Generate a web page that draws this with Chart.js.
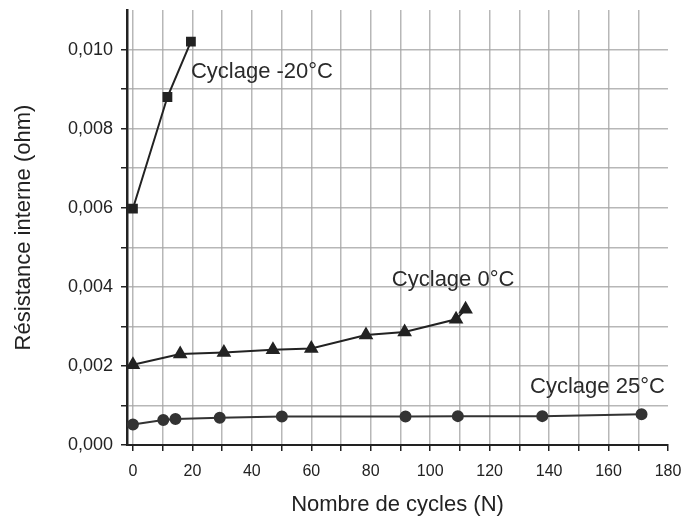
<!DOCTYPE html>
<html>
<head>
<meta charset="utf-8">
<script src="https://cdn.jsdelivr.net/npm/chart.js@4/dist/chart.umd.min.js"></script>
<style>
html,body{margin:0;padding:0;background:#fff;}
#wrap{width:688px;height:520px;}
</style>
</head>
<body>
<div id="wrap"><canvas id="c" width="688" height="520"></canvas></div>
<script>
// Data
const cyclesM20 = [0, 11.6, 19.5];
const resM20 = [0.00598, 0.0088, 0.0102];

const cycles0 = [0, 15.9, 30.6, 47.1, 60, 78.4, 91.4, 108.7, 111.9];
const res0 = [0.00203, 0.0023, 0.00234, 0.00241, 0.00244, 0.00278, 0.00286, 0.00318, 0.00343];

const cycles25 = [0, 10.2, 14.3, 29.2, 50.1, 91.7, 109.3, 137.7, 171.1];
const res25 = [0.00052, 0.00063, 0.00066, 0.00069, 0.00072, 0.00072, 0.00073, 0.00073, 0.00078];

const xTicks = [0,10,20,30,40,50,60,70,80,90,100,110,120,130,140,150,160,170,180];
const yTicks = [0,0.001,0.002,0.003,0.004,0.005,0.006,0.007,0.008,0.009,0.010,0.011];

const labelTexts = ['Cyclage -20°C', 'Cyclage 0°C', 'Cyclage 25°C'];
const labelX = [19.5, 87.1, 133.6];
const labelY = [0.00928, 0.00401, 0.00131];

const toPts = (xs, ys) => xs.map((x, i) => ({x: x, y: ys[i]}));

const ink = '#222';
const gridCol = 'rgba(165,165,165,0.8)';
const fam = '"Liberation Sans", Arial, sans-serif';

const labelPlugin = {
  id: 'seriesLabels',
  afterDatasetsDraw(chart) {
    const {ctx, scales} = chart;
    ctx.save();
    ctx.font = '22px ' + fam;
    ctx.fillStyle = '#2a2a2a';
    ctx.textAlign = 'left';
    ctx.textBaseline = 'alphabetic';
    labelTexts.forEach((t, i) => {
      ctx.fillText(t, scales.x.getPixelForValue(labelX[i]), scales.y.getPixelForValue(labelY[i]));
    });
    ctx.restore();
  }
};

new Chart(document.getElementById('c'), {
  type: 'scatter',
  data: {
    datasets: [
      {label: 'Cyclage -20°C', data: toPts(cyclesM20, resM20), showLine: true,
       borderColor: ink, backgroundColor: ink, borderWidth: 2,
       pointStyle: 'rect', pointRadius: 5.5, pointHoverRadius: 5.5},
      {label: 'Cyclage 0°C', data: toPts(cycles0, res0), showLine: true,
       borderColor: ink, backgroundColor: ink, borderWidth: 2,
       pointStyle: 'triangle', pointRadius: 6.5, pointHoverRadius: 6.5},
      {label: 'Cyclage 25°C', data: toPts(cycles25, res25), showLine: true,
       borderColor: '#333', backgroundColor: '#333', borderWidth: 2,
       pointStyle: 'circle', pointRadius: 5, pointHoverRadius: 5}
    ]
  },
  options: {
    responsive: false,
    animation: false,
    layout: {padding: {top: 10, right: 20, left: 0, bottom: 0}},
    plugins: {legend: {display: false}, tooltip: {enabled: false}},
    scales: {
      x: {
        type: 'linear', min: -2, max: 180,
        afterBuildTicks: s => { s.ticks = xTicks.map(v => ({value: v})); },
        afterFit: s => { s.height = 75; s.paddingLeft = 0; s.paddingRight = 0; },
        ticks: {
          autoSkip: false, maxRotation: 0, color: ink, padding: 11,
          font: {family: fam, size: 16},
          callback: v => (v % 20 === 0 ? String(v) : '')
        },
        grid: {
          color: c => (c.tick && c.tick.value >= 180 ? 'rgba(0,0,0,0)' : gridCol),
          lineWidth: 1.5, tickLength: 6, tickColor: ink, tickWidth: 1.5, drawTicks: true
        },
        border: {display: true, color: ink, width: 2},
        title: {display: true, text: 'Nombre de cycles (N)', color: '#222',
          font: {family: fam, size: 22}, padding: {top: 0, bottom: 2}}
      },
      y: {
        type: 'linear', min: 0, max: 0.011,
        afterBuildTicks: s => { s.ticks = yTicks.map(v => ({value: v})); },
        afterFit: s => { s.width = 127; s.paddingTop = 0; s.paddingBottom = 0; },
        ticks: {
          autoSkip: false, color: ink, padding: 8,
          font: {family: fam, size: 18},
          callback: v => {
            const k = Math.round(v * 1000);
            return (k % 2 === 0 && k <= 10) ? (k / 1000).toFixed(3).replace('.', ',') : '';
          }
        },
        grid: {
          color: c => (c.tick && c.tick.value > 0.0105 ? 'rgba(0,0,0,0)' : gridCol),
          tickColor: c => (c.tick && c.tick.value > 0.0105 ? 'rgba(0,0,0,0)' : ink),
          lineWidth: 1.5, tickLength: 6, tickWidth: 1.5
        },
        border: {display: true, color: ink, width: 2.5},
        title: {display: true, text: 'Résistance interne (ohm)', color: '#222',
          font: {family: fam, size: 22}, padding: {top: 11, bottom: 0}}
      }
    }
  },
  plugins: [labelPlugin]
});
</script>
</body>
</html>
